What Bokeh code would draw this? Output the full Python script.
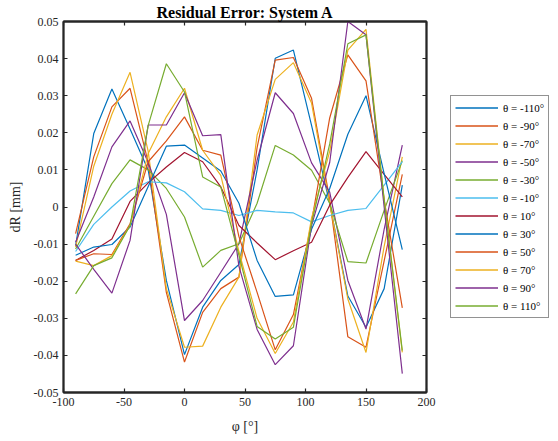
from bokeh.plotting import figure
from bokeh.layouts import row
from bokeh.models import Legend, LegendItem, LinearAxis, FixedTicker, Range1d, CustomJSTickFormatter
from bokeh.embed import file_html
from bokeh.resources import INLINE

phi = [-90, -75, -60, -45, -30, -15, 0, 15, 30, 45, 60, 75, 90, 105, 120, 135, 150, 165, 180]

th_m110 = [-0.0105, 0.0198, 0.0318, 0.021, 0.0100, -0.0198, -0.0398, -0.027, -0.0198, -0.0155, 0.010, 0.0401, 0.0423, 0.022, 0.001, -0.024, -0.0324, -0.022, 0.0059]
th_m90 = [-0.0072, 0.0135, 0.027, 0.032, 0.012, -0.023, -0.0418, -0.0284, -0.022, -0.0189, 0.016, 0.0396, 0.0403, 0.0293, 0.002, -0.035, -0.0378, -0.0145, 0.0088]
th_m70 = [-0.0108, 0.011, 0.025, 0.0363, 0.015, -0.022, -0.0378, -0.0375, -0.027, -0.0189, 0.0194, 0.0344, 0.0389, 0.028, 0.001, -0.0248, -0.0392, -0.0106, 0.0135]
th_m50 = [-0.0095, 0.0027, 0.0162, 0.0232, 0.012, -0.002, -0.0306, -0.0252, -0.0176, -0.0099, 0.0126, 0.0308, 0.0252, 0.0119, 0.004, -0.0198, -0.0329, -0.006, 0.0167]
th_m30 = [-0.0113, -0.0025, 0.0063, 0.0127, 0.010, 0.005, -0.0027, -0.0162, -0.0117, -0.0099, 0.001, 0.0166, 0.014, 0.0099, 0.001, -0.0147, -0.0151, -0.0009, 0.0125]
th_m10 = [-0.012, -0.0047, 0.0, 0.0043, 0.0068, 0.0065, 0.0041, -0.0005, -0.0009, -0.0023, -0.0009, -0.0013, -0.0016, -0.004, -0.0023, -0.0009, -0.0004, 0.0059, 0.0122]
th_10 = [-0.0144, -0.0117, -0.0086, 0.0015, 0.0065, 0.0108, 0.0147, 0.0122, 0.0054, -0.005, -0.0097, -0.0142, -0.0118, -0.0095, 0.0005, 0.008, 0.0149, 0.0088, 0.0027]
th_30 = [-0.013, -0.0108, -0.0101, -0.0054, 0.0055, 0.0164, 0.0167, 0.0132, 0.0097, 0.001, -0.0144, -0.0241, -0.0237, -0.006, 0.005, 0.0196, 0.030, 0.009, -0.0115]
th_50 = [-0.0144, -0.0126, -0.0128, -0.0045, 0.0122, 0.0178, 0.0243, 0.0153, 0.014, -0.008, -0.023, -0.0385, -0.029, -0.004, 0.024, 0.041, 0.034, 0.002, -0.0272]
th_70 = [-0.0146, -0.0158, -0.0131, -0.005, 0.0144, 0.0243, 0.032, 0.0153, 0.0085, -0.012, -0.030, -0.0395, -0.031, -0.003, 0.015, 0.0423, 0.0479, 0.002, -0.0392]
th_90 = [-0.0100, -0.0168, -0.0232, -0.009, 0.0221, 0.0221, 0.0308, 0.0192, 0.0195, -0.016, -0.033, -0.0425, -0.0374, -0.005, 0.012, 0.050, 0.0464, 0.0, -0.0449]
th_110 = [-0.0234, -0.0158, -0.0137, -0.005, 0.022, 0.0386, 0.031, 0.0081, 0.0054, -0.013, -0.0322, -0.0356, -0.0324, -0.0045, 0.017, 0.044, 0.0464, 0.002, -0.0387]

series = [th_m110, th_m90, th_m70, th_m50, th_m30, th_m10, th_10, th_30, th_50, th_70, th_90, th_110]
labels = ["θ = -110°", "θ = -90°", "θ = -70°", "θ = -50°", "θ = -30°", "θ = -10°",
          "θ = 10°", "θ = 30°", "θ = 50°", "θ = 70°", "θ = 90°", "θ = 110°"]
colors = ["#0072BD", "#D95319", "#EDB120", "#7E2F8E", "#77AC30", "#4DBEEE", "#A2142F"]

x_ticks = [-100, -50, 0, 50, 100, 150, 200]
x_tick_labels = ["-100", "-50", "0", "50", "100", "150", "200"]
y_ticks = [-0.05, -0.04, -0.03, -0.02, -0.01, 0, 0.01, 0.02, 0.03, 0.04, 0.05]
y_tick_labels = ["-0.05", "-0.04", "-0.03", "-0.02", "-0.01", "0", "0.01", "0.02", "0.03", "0.04", "0.05"]

FONT = "Liberation Serif"
AX = "#262626"

p = figure(width=450, height=441, output_backend="svg", toolbar_location=None,
           x_range=Range1d(-100, 200), y_range=Range1d(-0.05, 0.05),
           min_border_left=63, min_border_right=24, min_border_top=21, min_border_bottom=49,
           title="Residual Error: System A")
p.title.text_font = FONT
p.title.text_font_size = "16px"
p.title.text_font_style = "bold"
p.title.align = "center"
p.title.text_color = "black"
p.title.standoff = 2
p.grid.visible = False
p.outline_line_color = AX
p.outline_line_width = 1.8
p.outline_line_alpha = 1
p.background_fill_color = "white"
p.border_fill_color = "white"

def style_axis(ax, show_labels=True):
    ax.axis_line_color = AX
    ax.axis_line_width = 1.8
    ax.major_tick_line_color = AX
    ax.major_tick_line_width = 1.2
    ax.major_tick_in = 4
    ax.major_tick_out = 0
    ax.minor_tick_line_color = None
    ax.major_label_text_font = FONT
    ax.major_label_text_color = AX
    ax.major_label_text_font_size = "12px"
    if not show_labels:
        ax.formatter = CustomJSTickFormatter(code="return ''")
        ax.major_label_standoff = 0

p.xaxis.ticker = FixedTicker(ticks=x_ticks)
p.yaxis.ticker = FixedTicker(ticks=y_ticks)
p.xaxis.major_label_overrides = {v: s for v, s in zip(x_ticks, x_tick_labels)}
p.yaxis.major_label_overrides = {v: s for v, s in zip(y_ticks, y_tick_labels)}
style_axis(p.xaxis[0])
style_axis(p.yaxis[0])
p.xaxis.axis_label = "φ [°]"
p.yaxis.axis_label = "dR [mm]"
for ax in (p.xaxis[0], p.yaxis[0]):
    ax.axis_label_text_font = FONT
    ax.axis_label_text_font_size = "14px"
    ax.axis_label_text_font_style = "normal"
    ax.axis_label_text_color = AX
p.xaxis.axis_label_standoff = 10
p.yaxis.axis_label_standoff = 8

top_ax = LinearAxis(ticker=FixedTicker(ticks=x_ticks))
right_ax = LinearAxis(ticker=FixedTicker(ticks=y_ticks))
style_axis(top_ax, False)
style_axis(right_ax, False)
p.add_layout(top_ax, "above")
p.add_layout(right_ax, "right")

for i, ys in enumerate(series):
    p.line(phi, ys, line_color=colors[i % len(colors)], line_width=1.2)

# legend panel (its own copies of the series lie outside its ranges, so only the legend shows)
pl = figure(width=108, height=441, output_backend="svg", toolbar_location=None,
            x_range=Range1d(1000, 1001), y_range=Range1d(1000, 1001),
            x_axis_location=None, y_axis_location=None,
            min_border_left=0, min_border_right=0, min_border_top=0, min_border_bottom=0)
pl.grid.visible = False
pl.outline_line_color = None
pl.background_fill_color = "white"
pl.border_fill_color = "white"
items = []
for i, (ys, lab) in enumerate(zip(series, labels)):
    r = pl.line(phi, ys, line_color=colors[i % len(colors)], line_width=1.5)
    items.append(LegendItem(label=lab, renderers=[r]))

legend = Legend(items=items, location=(0, 74))
legend.label_text_font = FONT
legend.label_text_font_size = "11px"
legend.label_text_color = "black"
legend.glyph_width = 43
legend.glyph_height = 15
legend.label_height = 15
legend.spacing = 3
legend.padding = 4
legend.margin = 0
legend.label_standoff = 5
legend.border_line_color = AX
legend.border_line_width = 1
legend.background_fill_alpha = 1
pl.add_layout(legend, "center")

layout = row(p, pl, spacing=0)
open("out.html", "w").write(file_html(layout, INLINE))
